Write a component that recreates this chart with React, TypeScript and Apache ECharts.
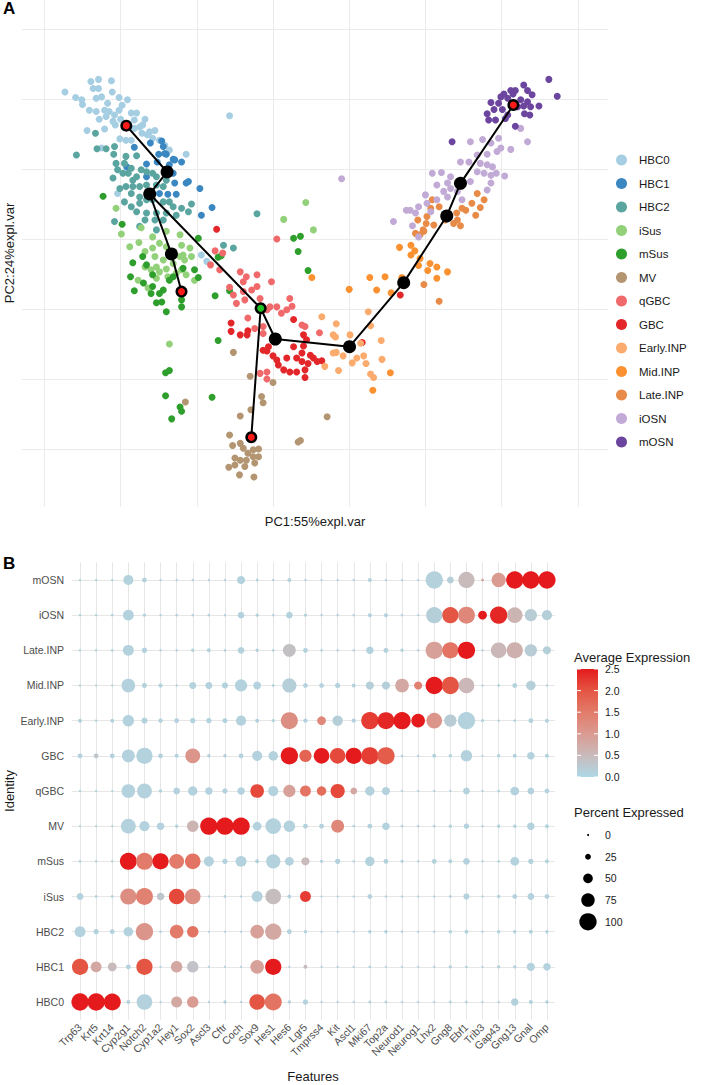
import React, { useEffect, useRef } from "react";
import * as echarts from "echarts";

const FONT = "'Liberation Sans', Arial, Helvetica, sans-serif";

// ---------- Panel A: PCA ----------
const CLUSTERS = ["HBC0", "HBC1", "HBC2", "iSus", "mSus", "MV", "qGBC", "GBC", "Early.INP", "Mid.INP", "Late.INP", "iOSN", "mOSN"];
const CLUSTER_COLORS = ["#a6cee3", "#3a87c1", "#5aa5a0", "#92d17a", "#2e9f2c", "#b39571", "#f06a6c", "#e3262a", "#fbab6d", "#fb9131", "#e88b48", "#c2aad6", "#6c459f"];

const HBC0_PTS = [[-27.3,21.0],[-25.9,20.2],[-25.1,19.9],[-25.0,19.2],[-23.9,22.5],[-22.9,22.8],[-23.6,21.5],[-22.9,21.5],[-21.2,22.6],[-21.1,21.0],[-23.2,20.1],[-22.5,20.3],[-20.2,20.2],[-24.1,18.4],[-23.2,18.2],[-22.1,18.4],[-21.5,18.2],[-22.8,17.1],[-21.9,17.5],[-20.8,17.7],[-20.2,18.4],[-19.8,19.1],[-20.0,17.1],[-24.4,15.5],[-22.1,15.7],[-21.0,16.8],[-18.6,18.0],[-17.9,18.0],[-18.2,17.0],[-16.8,17.1],[-17.5,16.0],[-16.2,15.3],[-15.5,15.5],[-15.8,14.4],[-14.9,14.1],[-18.6,14.1],[-19.3,14.1],[-20.1,14.3],[-5.7,17.6],[-11.4,12.1],[-22.5,13.0],[-18.2,15.8],[-17.1,16.3],[-16.5,14.9],[-20.4,6.5],[-9.4,-2.3],[-8.7,-3.2],[-19.1,19.9],[-21.7,19.4],[-20.7,16.3],[-19.5,15.9],[-17.2,15.1],[-14.2,13.4],[-13.6,12.7]];
const HBC1_PTS = [[-14.6,14.0],[-16.1,13.7],[-18.2,13.1],[-14.4,13.2],[-14.0,12.1],[-15.0,12.1],[-16.6,10.7],[-15.2,11.0],[-13.1,11.4],[-12.0,11.0],[-13.6,10.6],[-13.1,9.4],[-12.9,8.0],[-11.4,8.0],[-9.6,7.2],[-8.0,4.5],[-9.4,3.4],[-16.6,8.9],[-14.9,6.5],[-13.8,6.4],[-12.7,6.4],[-11.1,8.2],[-19.2,10.3],[-14.2,12.2],[-12.9,11.3]];
const HBC2_PTS = [[-23.3,15.1],[-25.8,12.0],[-23.1,12.9],[-21.9,12.9],[-20.8,13.2],[-20.9,12.1],[-19.3,11.8],[-17.9,11.9],[-20.6,10.8],[-19.5,10.8],[-18.6,10.1],[-20.4,9.9],[-21.0,8.7],[-19.7,9.4],[-19.0,9.4],[-18.4,8.4],[-17.9,8.9],[-17.3,9.9],[-16.6,9.6],[-15.8,9.4],[-15.3,8.9],[-19.3,7.5],[-18.4,7.5],[-17.5,7.5],[-16.6,7.7],[-15.3,7.7],[-14.4,7.5],[-14.0,8.4],[-20.1,7.2],[-18.6,6.5],[-17.5,6.0],[-19.5,5.3],[-18.6,4.6],[-17.5,5.1],[-16.6,5.6],[-15.8,5.6],[-14.4,5.3],[-13.6,5.3],[-13.1,4.6],[-12.0,4.4],[-11.1,3.9],[-10.7,5.0],[-17.9,3.9],[-16.6,3.7],[-15.3,3.7],[-14.0,3.7],[-12.7,3.4],[-16.8,2.7],[-15.5,2.7],[-14.4,2.7],[-20.8,2.5],[-17.5,1.8],[-15.3,1.3],[-2.1,3.6],[-6.5,-0.9],[-5.2,-1.3]];
const ISUS_PTS = [[-20.6,4.4],[-19.9,0.7],[-17.3,1.6],[-18.8,-1.1],[-17.6,-0.5],[-16.8,-1.8],[-15.8,-1.3],[-14.9,-0.6],[-14.0,-1.1],[-13.1,-1.8],[-12.0,-0.9],[-10.9,-1.3],[-10.7,-2.5],[-11.6,-3.0],[-12.0,-4.4],[-13.1,-3.5],[-14.4,-3.0],[-15.3,-4.0],[-16.0,-4.4],[-14.9,-4.7],[-16.8,-4.0],[-16.4,-7.0],[-17.7,-5.9],[-10.3,-5.9],[-11.4,-5.1],[-13.8,-5.4],[-13.6,-15.0],[1.4,2.8],[4.3,5.2],[5.3,1.3],[-12.2,0.6],[-14.0,1.1],[-15.8,0.3],[-15.5,-2.5],[-13.6,-2.5],[-12.2,-2.5],[-14.0,-4.3],[-12.7,-4.9],[-15.3,-5.6],[-11.8,-2.3]];
const MSUS_PTS = [[-22.3,6.1],[-19.8,2.1],[-18.4,-3.4],[-18.7,-5.4],[-18.2,-7.4],[-17.1,-2.5],[-16.6,-3.7],[-15.8,-5.1],[-15.8,-6.8],[-15.3,-9.1],[-14.6,-9.0],[-14.0,-10.4],[-14.4,-7.3],[-13.6,-5.9],[-13.1,-5.4],[-12.0,-9.7],[-11.8,-4.2],[-10.3,-4.4],[-9.8,-5.5],[-9.8,0.1],[-7.2,-2.6],[-5.7,-7.4],[-7.6,-8.1],[-7.2,-14.5],[-14.1,-19.1],[-13.6,-18.8],[-14.1,-22.4],[-13.3,-25.7],[-12.2,-24.0],[-12.0,-24.6],[-8.0,-22.6],[2.7,0.1],[3.6,0.4],[3.3,-1.8],[4.6,-4.5],[-6.8,-2.4],[-17.0,-6.3],[-14.9,-7.8],[-16.0,-7.8],[-12.0,-8.7]];
const MV_PTS = [[-11.5,-23.3],[-5.2,-16.2],[-3.0,-19.6],[0.0,-20.5],[-1.5,-22.5],[-1.3,-23.4],[-2.9,-24.4],[-4.3,-25.3],[-5.7,-28.0],[-5.3,-29.5],[-4.3,-29.2],[-3.9,-29.9],[-3.3,-30.6],[-2.6,-31.1],[-1.9,-30.0],[-1.9,-31.1],[-3.5,-31.6],[-4.3,-31.6],[-5.0,-32.3],[-5.8,-32.6],[-4.4,-33.7],[-2.5,-34.0],[-2.6,-30.1],[7.1,-25.4],[3.3,-29.0],[3.6,-28.8],[-2.4,-32.0],[-5.0,-31.3],[-3.7,-32.5]];
const QGBC_PTS = [[-7.6,-1.7],[-6.6,-2.0],[-8.2,-3.7],[-7.0,-4.4],[-4.3,-4.7],[-3.9,-6.1],[-2.1,-5.1],[-2.8,-7.3],[-0.2,-6.1],[-5.2,-8.0],[-3.7,-8.7],[-1.7,-8.5],[-0.4,-9.7],[0.5,-9.7],[1.1,-10.6],[2.2,-8.5],[2.5,-9.6],[-3.3,-11.3],[-1.3,-12.5],[-2.4,-12.8],[0.5,0.0],[-0.8,-10.1],[-1.3,-13.5],[-1.7,-19.2],[-0.8,-20.0],[-0.8,-19.0],[-3.9,-7.5],[-4.8,-9.2],[1.8,-10.1],[3.8,-12.3],[6.1,-13.4],[-2.1,-6.8],[-3.5,-5.4],[-5.7,-6.9],[4.2,-12.5]];
const GBC_PTS = [[-7.4,1.4],[-5.5,-12.0],[-5.5,-13.2],[-4.3,-13.7],[-3.3,-13.1],[-3.4,-13.7],[2.7,-11.5],[-0.8,-16.0],[0.5,-17.3],[1.4,-18.7],[2.2,-19.0],[3.1,-19.0],[4.2,-19.8],[4.2,-18.7],[1.8,-17.0],[3.1,-17.0],[3.8,-16.3],[3.8,-17.5],[4.6,-17.8],[5.3,-17.0],[5.8,-17.5],[6.4,-17.4],[4.9,-16.6],[2.7,-15.4],[4.0,-15.3],[0.7,-18.0],[0.0,-16.7],[-1.3,-15.9],[-0.6,-15.4],[4.0,-13.7],[4.4,-14.4],[16.7,-8.0],[11.7,-14.8]];
const EARLY_PTS = [[8.3,-12.1],[8.2,-14.0],[10.1,-13.7],[8.3,-16.2],[9.2,-16.7],[10.4,-17.7],[11.0,-17.0],[11.9,-16.7],[12.2,-17.8],[11.5,-14.9],[12.8,-12.4],[12.5,-10.4],[14.2,-14.5],[14.3,-17.2],[12.8,-19.3],[13.2,-19.8],[8.6,-18.8],[6.4,-11.1],[7.9,-13.7],[6.8,-18.2],[7.9,-16.3]];
const MID_PTS = [[12.7,-5.5],[14.7,-5.4],[13.6,-7.3],[10.0,-7.2],[15.5,-7.7],[16.9,-5.5],[16.6,-1.2],[18.1,-0.9],[18.1,-2.3],[18.6,-1.7],[19.3,-2.8],[19.1,-3.8],[20.6,-3.5],[21.5,-4.0],[20.3,-4.5],[21.5,-5.6],[22.9,-4.7],[15.4,-19.1],[13.1,-21.6],[5.1,-5.5]];
const LATE_PTS = [[26.8,6.5],[27.7,5.6],[26.1,5.1],[24.8,4.4],[25.3,4.1],[26.6,3.4],[24.1,3.7],[24.2,2.7],[23.7,2.2],[22.6,2.7],[21.8,4.6],[20.9,5.6],[20.2,3.2],[19.0,2.7],[19.7,1.3],[18.7,0.8],[20.7,4.4],[20.1,2.2],[21.1,2.0],[19.8,1.1],[19.3,0.6],[24.6,1.9],[21.8,-8.9],[19.8,-6.5],[27.2,4.5]];
const IOSN_PTS = [[25.9,13.9],[27.5,14.2],[28.6,13.7],[29.6,14.4],[31.2,12.8],[29.4,12.5],[29.9,13.0],[33.4,13.9],[32.5,15.8],[26.8,12.0],[28.1,12.1],[24.6,11.0],[25.7,11.0],[27.2,10.8],[28.1,10.6],[28.8,10.3],[26.8,9.6],[27.7,9.4],[28.6,9.1],[29.3,9.4],[30.4,9.0],[20.9,9.4],[22.1,9.5],[23.3,8.9],[22.9,8.0],[23.3,7.2],[22.4,6.8],[21.5,5.6],[24.2,6.8],[22.9,6.0],[20.2,5.1],[20.7,3.9],[18.0,4.1],[18.7,3.7],[17.5,4.1],[19.1,4.6],[20.0,6.3],[15.8,2.5],[18.3,1.9],[19.1,0.3],[28.6,8.0],[28.1,7.0],[25.9,8.2],[9.0,8.6],[24.8,5.6],[21.5,7.7]];
const MOSN_PTS = [[36.2,22.8],[37.3,20.4],[32.9,22.0],[33.4,21.2],[34.0,20.6],[31.8,21.2],[31.5,20.7],[31.2,21.2],[30.3,20.7],[29.9,20.3],[30.8,20.1],[28.6,19.5],[29.6,19.4],[29.0,18.5],[28.1,17.9],[30.1,18.5],[30.8,17.7],[29.2,17.0],[28.3,17.0],[32.1,18.9],[32.9,19.0],[33.8,18.9],[34.9,19.0],[33.0,17.9],[33.7,17.7],[30.5,17.2],[31.8,16.1],[23.5,13.9],[32.5,19.9],[33.4,19.6]];
const CLUSTER_POINTS = [HBC0_PTS, HBC1_PTS, HBC2_PTS, ISUS_PTS, MSUS_PTS, MV_PTS, QGBC_PTS, GBC_PTS, EARLY_PTS, MID_PTS, LATE_PTS, IOSN_PTS, MOSN_PTS];

// trajectory (principal curve) nodes
const NODES = [[-19.25,16.19],[-13.9,9.57],[-16.18,6.43],[-13.33,-2.14],[-12.01,-7.52],[-1.62,-9.9],[0.3,-14.29],[-2.85,-28.33],[10.04,-15.38],[17.15,-6.24],[22.8,3.29],[24.6,7.95],[31.54,19.14]];
const NODE_KIND = ["end","","","","end","root","","end","","","","","end"];
const PATHS = [[0,1,2,3,4],[2,5,6,8,9,10,11,12],[5,7]];
const GRID_X = [-30,-20,-10,0,10,20,30,40];
const GRID_Y = [-30,-20,-10,0,10,20,30];

// ---------- Panel B: dot plot ----------
const GENES = ["Trp63","Krt5","Krt14","Cyp2g1","Notch2","Cyp1a2","Hey1","Sox2","Ascl3","Cftr","Coch","Sox9","Hes1","Hes6","Lgr5","Tmprss4","Kit","Ascl1","Mki67","Top2a","Neurod1","Neurog1","Lhx2","Gng8","Ebf1","Trib3","Gap43","Gng13","Gnal","Omp"];
const IDENTITIES = ["HBC0","HBC1","HBC2","iSus","mSus","MV","qGBC","GBC","Early.INP","Mid.INP","Late.INP","iOSN","mOSN"];

const PCT_HBC0 = [100,100,98,13,89,2,58,62,2,9,2,89,98,9,22,2,2,2,5,5,2,2,2,5,5,2,2,36,13,9];
const AVG_HBC0 = [2.5,2.5,2.5,.1,.1,.1,.8,1.0,.1,.1,.1,2.0,1.6,.1,.1,.1,.1,.1,.1,.1,.1,.1,.1,.1,.1,.1,.1,.1,.1,.1];
const PCT_HBC1 = [93,58,44,18,93,2,62,62,2,2,2,76,93,2,13,2,2,2,5,2,2,2,3,9,5,2,9,9,40,36];
const AVG_HBC1 = [2.0,.8,.5,.1,2.0,.1,.8,.35,.1,.1,.1,.9,2.5,.1,.5,.1,.1,.1,.1,.1,.1,.1,.1,.1,.1,.1,.1,.1,.1,.1];
const PCT_HBC2 = [58,22,18,49,100,3,76,62,2,2,2,76,93,18,9,2,2,2,9,9,3,2,3,9,13,3,9,9,13,9];
const AVG_HBC2 = [.1,.1,.1,.1,1.1,.1,1.5,1.6,.1,.1,.1,.9,.8,.1,.1,.1,.1,.1,.1,.1,.1,.1,.1,.1,.1,.1,.1,.1,.1,.1];
const PCT_ISUS = [31,5,5,93,98,36,89,89,2,5,3,58,89,13,58,2,2,2,18,3,3,2,3,5,27,3,9,18,31,18];
const AVG_ISUS = [.1,.1,.1,1.2,1.4,.3,2.1,1.2,.1,.1,.1,.1,.45,.1,2.2,.1,.1,.1,.1,.1,.1,.1,.1,.1,.1,.1,.1,.1,.1,.1];
const PCT_MSUS = [5,3,3,98,98,93,84,89,53,22,58,13,80,44,40,9,22,3,49,18,9,3,18,13,31,3,5,44,22,13];
const AVG_MSUS = [.1,.1,.1,2.5,1.5,2.5,1.5,1.6,.1,.1,.1,.1,.1,.1,.5,.1,.1,.1,.1,.1,.1,.1,.1,.1,.1,.1,.1,.1,.1,.1];
const PCT_MV = [2,2,2,84,53,36,9,62,100,100,100,44,89,62,18,18,71,5,18,36,5,3,5,9,22,3,9,9,36,13];
const AVG_MV = [.1,.1,.1,.1,.1,.1,.1,.6,2.5,2.5,2.5,.1,.1,.1,.1,.1,1.3,.1,.1,.1,.1,.1,.1,.1,.1,.1,.1,.1,.1,.1];
const PCT_QGBC = [3,2,2,76,84,9,31,49,36,22,36,76,53,67,58,49,80,31,49,40,3,3,3,3,31,3,5,44,31,18];
const AVG_QGBC = [.1,.1,.1,.1,.1,.1,.1,.1,.1,.1,.1,2.1,.1,.9,1.6,1.7,2.1,.8,.1,.1,.1,.1,.1,.1,.1,.1,.1,.1,.1,.1];
const PCT_GBC = [18,18,18,71,93,18,13,84,9,9,18,53,49,100,67,89,89,93,100,100,5,3,13,9,62,2,9,13,36,13];
const AVG_GBC = [.1,.3,.1,.1,.1,.1,.1,1.1,.1,.1,.1,.1,.1,2.5,1.8,2.5,2.1,2.5,2.2,1.9,.1,.1,.1,.1,.1,.1,.1,.1,.1,.1];
const PCT_EARLY = [13,3,13,62,27,15,18,22,22,20,53,13,9,98,15,44,55,15,100,98,100,76,89,67,100,9,3,5,18,13];
const AVG_EARLY = [.1,.1,.1,.1,.1,.1,.1,.1,.1,.1,.1,.1,.1,1.2,.1,1.3,.15,.1,2.2,2.4,2.5,2.5,1.1,.2,.1,.1,.1,.1,.1,.1];
const PCT_MID = [2,2,2,76,20,15,3,33,33,27,67,38,5,80,18,18,22,13,40,40,76,40,100,100,89,3,5,18,49,3];
const AVG_MID = [.1,.1,.1,.1,.1,.1,.1,.1,.1,.1,.1,.1,.1,.15,.1,.1,.1,.1,.15,.15,.8,1.4,2.5,2.0,.55,.1,.1,.1,.15,.1];
const PCT_LATE = [3,3,5,58,22,3,3,9,13,5,31,9,5,71,18,5,3,3,36,20,9,3,100,93,100,3,89,93,67,40];
const AVG_LATE = [.1,.1,.1,.1,.1,.1,.1,.1,.1,.1,.1,.1,.1,.4,.1,.1,.1,.1,.1,.1,.1,.1,.9,1.6,2.5,.1,.55,.65,.2,.15];
const PCT_IOSN = [3,3,5,58,9,3,5,3,5,3,30,9,3,30,9,3,3,3,13,13,3,2,93,93,98,44,100,89,67,53];
const AVG_IOSN = [.1,.1,.1,.1,.1,.1,.1,.1,.1,.1,.1,.1,.1,.1,.1,.1,.1,.1,.1,.1,.1,.1,.15,2.0,1.3,2.5,2.4,.6,.2,.15];
const PCT_MOSN = [3,2,3,53,18,2,2,2,2,2,40,5,3,13,3,2,2,2,13,2,2,2,100,31,93,5,80,100,100,100];
const AVG_MOSN = [.1,.1,.1,.1,.1,.1,.1,.1,.1,.1,.1,.1,.1,.1,.1,.1,.1,.1,.1,.1,.1,.1,.12,.15,.5,.8,1.0,2.5,2.5,2.5];

const PCT_ROWS = [PCT_HBC0, PCT_HBC1, PCT_HBC2, PCT_ISUS, PCT_MSUS, PCT_MV, PCT_QGBC, PCT_GBC, PCT_EARLY, PCT_MID, PCT_LATE, PCT_IOSN, PCT_MOSN];
const AVG_ROWS = [AVG_HBC0, AVG_HBC1, AVG_HBC2, AVG_ISUS, AVG_MSUS, AVG_MV, AVG_QGBC, AVG_GBC, AVG_EARLY, AVG_MID, AVG_LATE, AVG_IOSN, AVG_MOSN];

const EXPR_TICKS = [0, 0.5, 1, 1.5, 2, 2.5];
const PCT_TICKS = [0, 25, 50, 75, 100];
const EXPR_COLORS = ["#add8e6", "#c9babb", "#da9b92", "#e27b6a", "#e55543", "#e41a1c"];

const dotSize = (p: number) => 2 + 0.153 * p;

export default function App() {
  const ref = useRef<HTMLDivElement>(null);
  useEffect(() => {
    document.body.style.margin = "0";
    if (!ref.current) return;
    const chart = echarts.init(ref.current, null, { renderer: "svg" });

    const series: any[] = [];
    // gridlines of panel A (drawn beneath the points)
    series.push({
      type: "scatter", xAxisIndex: 0, yAxisIndex: 0, data: [], z: 0, zlevel: 0, silent: true,
      markLine: {
        z: 0, silent: true, symbol: ["none", "none"], label: { show: false }, animation: false,
        lineStyle: { color: "#ebebeb", width: 1, type: "solid" },
        emphasis: { disabled: true },
        data: [...GRID_X.map((v) => ({ xAxis: v })), ...GRID_Y.map((v) => ({ yAxis: v }))],
      },
    });
    CLUSTERS.forEach((name, i) => {
      series.push({
        type: "scatter", name, xAxisIndex: 0, yAxisIndex: 0, z: 2,
        data: CLUSTER_POINTS[i], symbolSize: 7,
        itemStyle: { color: CLUSTER_COLORS[i], opacity: 1 },
      });
    });
    PATHS.forEach((p) => {
      series.push({
        type: "line", xAxisIndex: 0, yAxisIndex: 0, z: 6, showSymbol: false, silent: true,
        data: p.map((k) => NODES[k]), lineStyle: { color: "#000", width: 2 },
      });
    });
    series.push({
      type: "scatter", xAxisIndex: 0, yAxisIndex: 0, z: 7, silent: true,
      data: NODES.map((n, i) => ({ value: n, symbolSize: NODE_KIND[i] ? 12 : 13 })),
      itemStyle: { color: "#000", opacity: 1 },
    });
    series.push({
      type: "scatter", xAxisIndex: 0, yAxisIndex: 0, z: 8, silent: true, symbolSize: 7,
      data: NODES.map((n, i) => ({ value: n, kind: NODE_KIND[i] }))
        .filter((d) => d.kind)
        .map((d) => ({ value: d.value, itemStyle: { color: d.kind === "root" ? "#22c222" : "#ff1a1a", opacity: 1 } })),
    });
    const dotData: any[] = [];
    IDENTITIES.forEach((_, r) => {
      GENES.forEach((_, g) => {
        dotData.push([g, r, AVG_ROWS[r][g], PCT_ROWS[r][g]]);
      });
    });
    const dotIndex = series.length;
    series.push({
      type: "scatter", xAxisIndex: 1, yAxisIndex: 1, z: 3, data: dotData,
      symbolSize: (v: number[]) => dotSize(v[3]),
      itemStyle: { opacity: 1 },
    });

    const cbTop = 669, cbBottom = 777, cbLeft = 577, cbW = 21;
    const graphic: any[] = [
      { type: "text", left: 3, top: 0, style: { text: "A", font: `bold 17px ${FONT}`, fill: "#000" } },
      { type: "text", left: 3, top: 555, style: { text: "B", font: `bold 17px ${FONT}`, fill: "#000" } },
      { type: "text", x: 315, y: 521, style: { text: "PC1:55%expl.var", font: `13px ${FONT}`, fill: "#1a1a1a", textAlign: "center", textVerticalAlign: "middle" } },
      { type: "text", x: 9, y: 253, rotation: Math.PI / 2, style: { text: "PC2:24%expl.var", font: `13px ${FONT}`, fill: "#1a1a1a", textAlign: "center", textVerticalAlign: "middle" } },
      { type: "text", x: 313, y: 1076, style: { text: "Features", font: `13px ${FONT}`, fill: "#1a1a1a", textAlign: "center", textVerticalAlign: "middle" } },
      { type: "text", x: 9, y: 791, rotation: Math.PI / 2, style: { text: "Identity", font: `13px ${FONT}`, fill: "#1a1a1a", textAlign: "center", textVerticalAlign: "middle" } },
      { type: "text", x: 574, y: 657, style: { text: "Average Expression", font: `13px ${FONT}`, fill: "#1a1a1a", textVerticalAlign: "middle" } },
      {
        type: "rect", shape: { x: cbLeft, y: cbTop, width: cbW, height: cbBottom - cbTop },
        style: {
          fill: new echarts.graphic.LinearGradient(0, 1, 0, 0,
            EXPR_COLORS.map((c, i) => ({ offset: i / (EXPR_COLORS.length - 1), color: c }))),
        },
      },
      { type: "text", x: 574, y: 812, style: { text: "Percent Expressed", font: `13px ${FONT}`, fill: "#1a1a1a", textVerticalAlign: "middle" } },
    ];
    EXPR_TICKS.forEach((v) => {
      const y = cbBottom - (v / 2.5) * (cbBottom - cbTop);
      graphic.push({ type: "line", shape: { x1: cbLeft, y1: y, x2: cbLeft + 4, y2: y }, style: { stroke: "#fff", lineWidth: 1 } });
      graphic.push({ type: "line", shape: { x1: cbLeft + cbW - 4, y1: y, x2: cbLeft + cbW, y2: y }, style: { stroke: "#fff", lineWidth: 1 } });
      graphic.push({ type: "text", x: 605, y, style: { text: v.toFixed(1), font: `10.5px ${FONT}`, fill: "#1a1a1a", textVerticalAlign: "middle" } });
    });
    PCT_TICKS.forEach((p, i) => {
      const y = 835 + i * 21.7;
      graphic.push({ type: "circle", shape: { cx: 588, cy: y, r: dotSize(p) / 2 }, style: { fill: "#000" } });
      graphic.push({ type: "text", x: 605, y, style: { text: String(p), font: `10.5px ${FONT}`, fill: "#1a1a1a", textVerticalAlign: "middle" } });
    });

    chart.setOption({
      animation: false,
      textStyle: { fontFamily: FONT },
      grid: [
        { left: 22, right: 99, top: 0, bottom: 578 },
        { left: 72, right: 152, top: 562.4, bottom: 65.4 },
      ],
      xAxis: [
        { type: "value", gridIndex: 0, min: -32.94, max: 43.96, show: false },
        {
          type: "category", gridIndex: 1, data: GENES, boundaryGap: true,
          axisLine: { show: false }, axisTick: { show: false },
          axisLabel: { interval: 0, rotate: 45, margin: 6, fontSize: 10.5, color: "#4d4d4d", fontFamily: FONT },
          splitLine: { show: true, interval: 0, alignWithLabel: true, lineStyle: { color: "#e6e6e6", width: 1 } },
        },
      ],
      yAxis: [
        { type: "value", gridIndex: 0, min: -38.29, max: 34.14, show: false },
        {
          type: "category", gridIndex: 1, data: IDENTITIES, boundaryGap: true,
          axisLine: { show: false }, axisTick: { show: false },
          axisLabel: { interval: 0, margin: 8, fontSize: 10.5, color: "#4d4d4d", fontFamily: FONT },
          splitLine: { show: true, interval: 0, alignWithLabel: true, lineStyle: { color: "#e6e6e6", width: 1 } },
        },
      ],
      legend: {
        data: CLUSTERS, orient: "vertical", left: 616, top: 154, padding: 0,
        itemWidth: 25, itemHeight: 11, itemGap: 11.5, icon: "circle", selectedMode: false,
        textStyle: { fontSize: 11.5, color: "#1a1a1a", fontFamily: FONT, lineHeight: 11 },
      },
      visualMap: {
        type: "continuous", show: false, seriesIndex: dotIndex, dimension: 2,
        min: 0, max: 2.5, inRange: { color: EXPR_COLORS },
      },
      graphic,
      series,
    });
    return () => chart.dispose();
  }, []);
  return <div ref={ref} style={{ width: 707, height: 1085 }} />;
}
